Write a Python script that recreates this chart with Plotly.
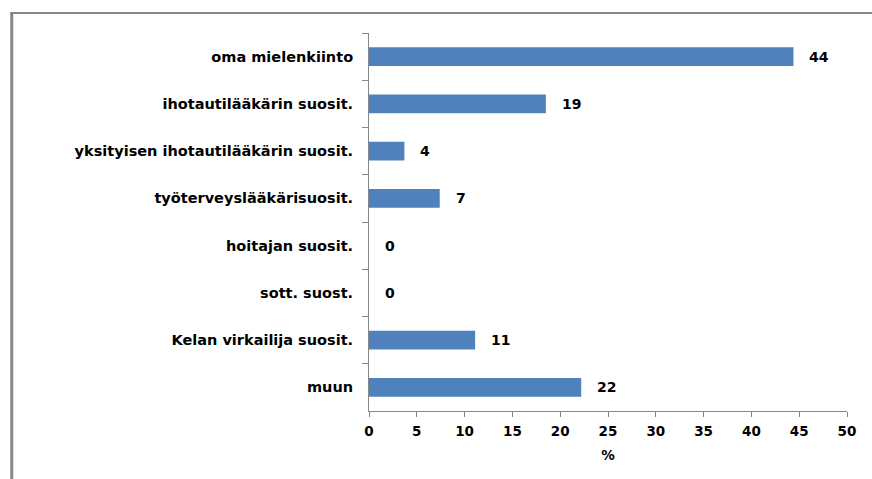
import plotly.graph_objects as go

categories = [
    "oma mielenkiinto",
    "ihotautilääkärin suosit.",
    "yksityisen ihotautilääkärin suosit.",
    "työterveyslääkärisuosit.",
    "hoitajan suosit.",
    "sott. suost.",
    "Kelan virkailija suosit.",
    "muun",
]
values = [44.4, 18.5, 3.7, 7.4, 0.0, 0.0, 11.1, 22.2]
value_labels = ["44", "19", "4", "7", "0", "0", "11", "22"]
x_ticks = [0, 5, 10, 15, 20, 25, 30, 35, 40, 45, 50]

FONT = "DejaVu Sans"
GRAY = "#868686"

fig = go.Figure()
fig.add_trace(go.Bar(
    x=values, y=categories, orientation="h",
    marker=dict(color="#4F81BD", line=dict(width=0)),
    hoverinfo="skip",
))

for v, c, t in zip(values, categories, value_labels):
    fig.add_annotation(
        x=v, y=c, text=t, showarrow=False, xanchor="left", xshift=14,
        font=dict(family=FONT, size=14, color="black", weight="bold"),
    )

fig.update_layout(
    width=872, height=479,
    margin=dict(l=368.5, r=24.5, t=33, b=68),
    paper_bgcolor="white", plot_bgcolor="white",
    bargap=0.6,
    showlegend=False,
    font=dict(family=FONT, size=12, color="black"),
    xaxis=dict(
        range=[0, 50], tickvals=x_ticks, showgrid=False, zeroline=False,
        showline=True, linecolor=GRAY, linewidth=1,
        ticks="outside", ticklen=5, tickcolor=GRAY,
        ticklabelstandoff=3,
        tickfont=dict(family=FONT, size=13.5, color="black", weight="bold"),
        title=dict(text="%", standoff=12,
                   font=dict(family=FONT, size=13.5, color="black", weight="bold")),
    ),
    yaxis=dict(
        categoryorder="array", categoryarray=categories, autorange="reversed",
        showgrid=False, zeroline=False,
        showline=True, linecolor=GRAY, linewidth=1,
        ticks="outside", ticklen=6, tickcolor=GRAY, tickson="boundaries",
        ticklabelstandoff=12,
        tickfont=dict(family=FONT, size=14.5, color="black", weight="bold"),
    ),
    shapes=[
        dict(type="line", xref="paper", yref="paper",
             x0=(10.5 - 368.5) / 479, x1=(10.5 - 368.5) / 479,
             y0=(411 - 13) / 378, y1=(411 - 490) / 378,
             line=dict(color=GRAY, width=3)),
        dict(type="line", xref="paper", yref="paper",
             x0=(9 - 368.5) / 479, x1=(880 - 368.5) / 479,
             y0=(411 - 13) / 378, y1=(411 - 13) / 378,
             line=dict(color=GRAY, width=2)),
    ],
)

fig.write_html("out.html")
